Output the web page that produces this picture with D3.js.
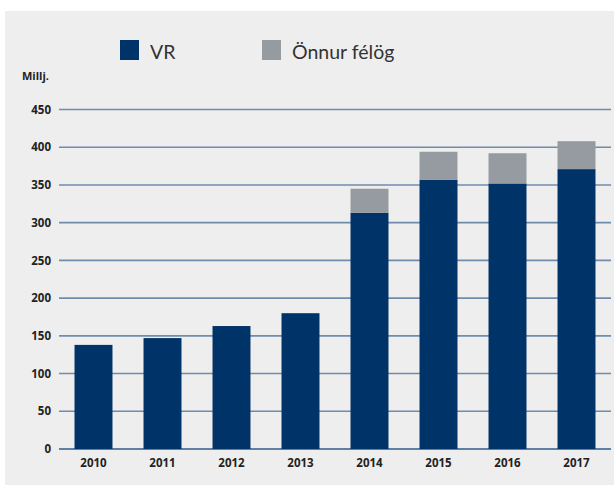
<!DOCTYPE html>
<html>
<head>
<meta charset="utf-8">
<script src="https://cdn.jsdelivr.net/npm/d3@7"></script>
<style>
  body { margin: 0; background: #fff; }
  svg { display: block; }
</style>
</head>
<body>
<div id="chart"></div>
<script>
var width = 614;
var height = 486;

// values (millions)
var years = ["2010", "2011", "2012", "2013", "2014", "2015", "2016", "2017"];
var vr = [138, 147, 163, 180, 313, 357, 352, 371];
var other = [0, 0, 0, 0, 32, 37, 40, 37];
var yTicks = [0, 50, 100, 150, 200, 250, 300, 350, 400, 450];
var seriesNames = ["VR", "Önnur félög"];
var colors = ["#003468", "#959ba1"];

var svg = d3.select("#chart").append("svg")
  .attr("width", width)
  .attr("height", height);

// grey panel
svg.append("rect")
  .attr("x", 5).attr("y", 11)
  .attr("width", width - 5).attr("height", 474)
  .attr("fill", "#eeeeee");

var x = d3.scaleBand().domain(years).range([59, 611]).paddingInner(0.45).paddingOuter(0.225);
var y = d3.scaleLinear().domain([0, 450]).range([449, 109.5]);

// gridlines
svg.append("g")
  .selectAll("line")
  .data(yTicks)
  .enter().append("line")
  .attr("x1", 59).attr("x2", 611)
  .attr("y1", d => y(d)).attr("y2", d => y(d))
  .attr("stroke", d => d == 0 ? "#2f5a8a" : "#6f8cad")
  .attr("stroke-width", 1.6);

// y labels
svg.append("g")
  .selectAll("text")
  .data(yTicks)
  .enter().append("text")
  .attr("x", 51)
  .attr("y", d => y(d))
  .attr("dy", "0.36em")
  .attr("text-anchor", "end")
  .style("font-family", "'Open Sans', sans-serif")
  .style("font-weight", "bold")
  .style("font-size", "11.5px")
  .style("fill", "#222")
  .text(d => d);

svg.append("text")
  .attr("x", 22).attr("y", 80)
  .style("font-family", "'Open Sans', sans-serif")
  .style("font-weight", "bold")
  .style("font-size", "11px")
  .style("fill", "#222")
  .text("Millj.");

// stacked bars
var stackData = years.map(function(yr, i) { return { year: yr, vr: vr[i], other: other[i] }; });
var stack = d3.stack().keys(["vr", "other"])(stackData);

svg.append("g")
  .selectAll("g")
  .data(stack)
  .enter().append("g")
  .attr("fill", (d, i) => colors[i])
  .selectAll("rect")
  .data(d => d.filter(p => p[1] > p[0]))
  .enter().append("rect")
  .attr("x", d => x(d.data.year))
  .attr("width", x.bandwidth())
  .attr("y", d => y(d[1]))
  .attr("height", d => y(d[0]) - y(d[1]));

// year labels
svg.append("g")
  .selectAll("text")
  .data(years)
  .enter().append("text")
  .attr("x", d => x(d) + x.bandwidth() / 2)
  .attr("y", 467)
  .attr("text-anchor", "middle")
  .style("font-family", "'Open Sans', sans-serif")
  .style("font-weight", "bold")
  .style("font-size", "11.5px")
  .style("fill", "#222")
  .text(d => d);

// legend
var legend = svg.append("g")
  .selectAll("g")
  .data(seriesNames)
  .enter().append("g")
  .attr("transform", (d, i) => "translate(" + [120, 262][i] + ",40)");

legend.append("rect")
  .attr("width", 19).attr("height", 20)
  .attr("fill", (d, i) => colors[i]);

legend.append("text")
  .attr("x", 30).attr("y", 19)
  .style("font-family", "Lato, sans-serif")
  .style("font-size", "19.5px")
  .style("fill", "#333")
  .text(d => d);
</script>
</body>
</html>
